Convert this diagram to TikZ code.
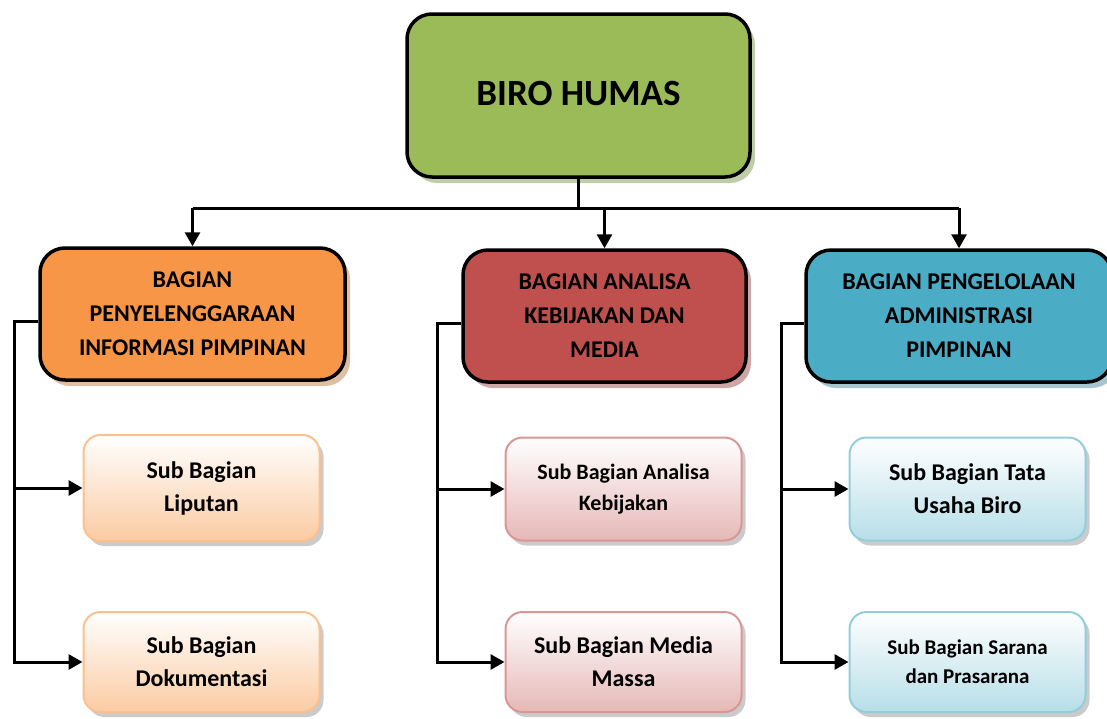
\documentclass[tikz,border=0pt]{standalone}
\usepackage{fontspec}
\setmainfont{Carlito}
\usetikzlibrary{arrows.meta, positioning, shadows}

\definecolor{humasgreen}{HTML}{9BBB59}
\definecolor{humasorange}{HTML}{F79646}
\definecolor{humasred}{HTML}{C0504D}
\definecolor{humasblue}{HTML}{4BACC6}
\definecolor{suborange}{HTML}{FBCBA2}
\definecolor{subred}{HTML}{E6B8B7}
\definecolor{subblue}{HTML}{B7DEE8}
\definecolor{lineorange}{HTML}{FAC08F}
\definecolor{linered}{HTML}{D99694}
\definecolor{lineblue}{HTML}{92CDDC}

\tikzset{
  bagian/.style={draw=black, line width=3.5pt, rounded corners=25pt,
    fill=#1, inner sep=0pt, align=center,
    font=\fontsize{24}{34}\selectfont\bfseries,
    drop shadow={shadow xshift=5pt, shadow yshift=-6pt,
      fill=#1!75!black, opacity=0.45}},
  subbag/.style 2 args={draw=#2, line width=2pt, rounded corners=17pt,
    top color=white, bottom color=#1, inner sep=0pt, align=center,
    minimum width=236pt, font=\fontsize{24}{33}\selectfont\bfseries,
    drop shadow={shadow xshift=4pt, shadow yshift=-5pt,
      fill=black!45, opacity=0.45}},
  conn/.style={line width=3pt}
}

\begin{document}
\begin{tikzpicture}[x=1pt, y=-1pt, >={Triangle[length=14pt, width=15pt]}]
  \useasboundingbox (0,0) rectangle (1107,718);

  % Top unit
  \node[bagian=humasgreen, minimum width=343pt, minimum height=163pt,
        font=\fontsize{37}{40}\selectfont\bfseries] (biro) at (578.5,95.5)
        {\raisebox{5pt}{BIRO HUMAS}};

  % Bagian
  \node[bagian=humasorange, minimum width=305pt, minimum height=132pt]
    (penyel) at (192.5,314)
    {BAGIAN\\PENYELENGGARAAN\\INFORMASI PIMPINAN};
  \node[bagian=humasred, minimum width=283pt, minimum height=132pt]
    (analisa) at (604.5,316)
    {BAGIAN ANALISA\\KEBIJAKAN DAN\\MEDIA};
  \node[bagian=humasblue, minimum width=306pt, minimum height=132pt]
    (pengel) at (959,316)
    {BAGIAN PENGELOLAAN\\ADMINISTRASI\\PIMPINAN};

  % Sub bagian
  \node[subbag={suborange}{lineorange}, minimum height=106pt]
    (liputan) at (201.5,488) {Sub Bagian\\Liputan};
  \node[subbag={suborange}{lineorange}, minimum height=100pt]
    (dokumen) at (201.5,662) {Sub Bagian\\Dokumentasi};
  \node[subbag={subred}{linered}, minimum height=103pt,
        font=\fontsize{22}{31}\selectfont\bfseries]
    (kebijakan) at (623.5,489) {Sub Bagian Analisa\\Kebijakan};
  \node[subbag={subred}{linered}, minimum height=100pt]
    (media) at (623.5,662) {Sub Bagian Media\\Massa};
  \node[subbag={subblue}{lineblue}, minimum height=103pt]
    (tatausaha) at (967.5,489) {Sub Bagian Tata\\Usaha Biro};
  \node[subbag={subblue}{lineblue}, minimum height=100pt,
        font=\fontsize{21}{29}\selectfont\bfseries]
    (sarana) at (967.5,662) {Sub Bagian Sarana\\dan Prasarana};

  % Bus under the top unit
  \coordinate (bus) at (0,208);
  \draw[conn] (biro.south) -- (biro.south |- bus);
  \draw[conn] (penyel.north |- bus) -- (pengel.north |- bus);
  \foreach \b in {penyel, analisa, pengel}
    \draw[conn, ->] (\b.north |- bus) -- (\b.north);

  % Spines down to the sub bagian
  \coordinate (spineA) at (14,0);
  \coordinate (spineB) at (437,0);
  \coordinate (spineC) at (781,0);
  \foreach \b/\s/\u/\l in {penyel/spineA/liputan/dokumen,
                           analisa/spineB/kebijakan/media,
                           pengel/spineC/tatausaha/sarana} {
    \draw[conn, ->] ([yshift=-7pt]\b.west) -- ([yshift=-7pt]\b.west -| \s)
      -- (\l.west -| \s) -- (\l.west);
    \draw[conn, ->] (\u.west -| \s) -- (\u.west);
  }
\end{tikzpicture}
\end{document}
